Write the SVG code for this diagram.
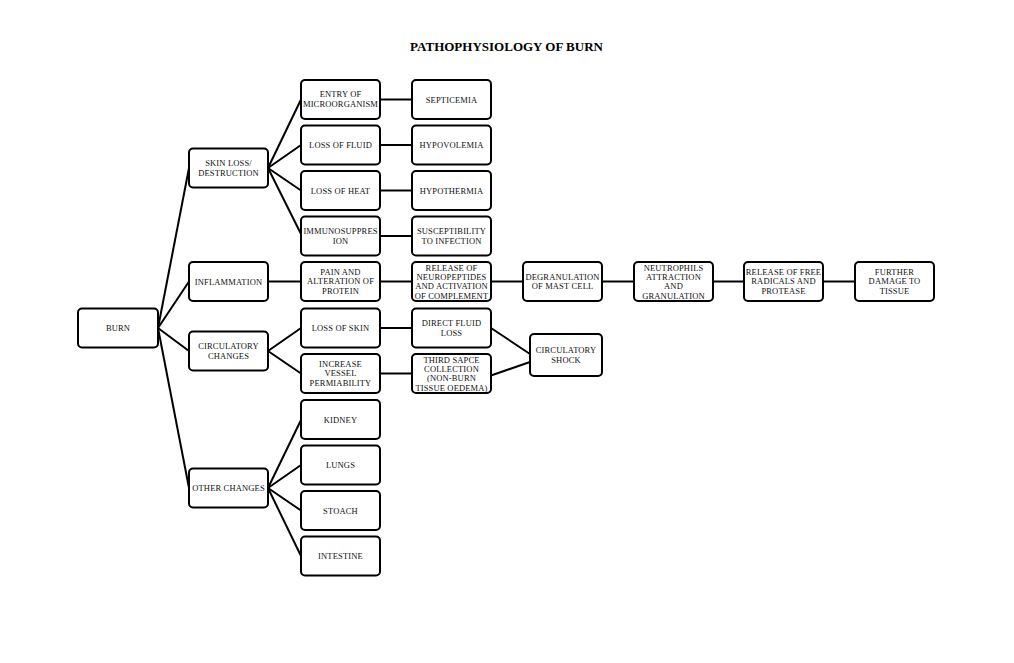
<svg xmlns="http://www.w3.org/2000/svg" width="1014" height="663" viewBox="0 0 1014 663">
<style>
.b{fill:#fff;stroke:#000;stroke-width:2}
.t{font-family:"Liberation Serif","Times New Roman",serif;font-size:8.5px;letter-spacing:0.15px;fill:#111;text-anchor:middle}
.c line{stroke:#000;stroke-width:2}
.title{font-family:"Liberation Serif","Times New Roman",serif;font-size:13px;font-weight:bold;fill:#000;text-anchor:middle}
</style>
<rect width="1014" height="663" fill="#fff"/>
<text class="title" x="506.5" y="50.5">PATHOPHYSIOLOGY OF BURN</text>
<g class="c" id="connectors">
<line x1="158" y1="328" x2="189" y2="168"/>
<line x1="158" y1="328" x2="189" y2="281.5"/>
<line x1="158" y1="328" x2="189" y2="351"/>
<line x1="158" y1="328" x2="189" y2="488"/>
<line x1="268" y1="168" x2="301" y2="99.5"/>
<line x1="268" y1="168" x2="301" y2="145"/>
<line x1="268" y1="168" x2="301" y2="190.5"/>
<line x1="268" y1="168" x2="301" y2="234"/>
<line x1="380" y1="99.5" x2="412" y2="99.5"/>
<line x1="380" y1="145" x2="412" y2="145"/>
<line x1="380" y1="190.5" x2="412" y2="190.5"/>
<line x1="380" y1="236" x2="412" y2="236"/>
<line x1="268" y1="281.5" x2="301" y2="281.5"/>
<line x1="380" y1="281.5" x2="412" y2="281.5"/>
<line x1="491" y1="281.5" x2="523" y2="281.5"/>
<line x1="602" y1="281.5" x2="634" y2="281.5"/>
<line x1="713" y1="281.5" x2="744" y2="281.5"/>
<line x1="823" y1="281.5" x2="855" y2="281.5"/>
<line x1="268" y1="351" x2="301" y2="328"/>
<line x1="268" y1="351" x2="301" y2="373.5"/>
<line x1="380" y1="328" x2="412" y2="328"/>
<line x1="380" y1="373.5" x2="412" y2="373.5"/>
<line x1="491" y1="328" x2="530" y2="354"/>
<line x1="491" y1="375.5" x2="530" y2="362"/>
<line x1="268" y1="488" x2="301" y2="420"/>
<line x1="268" y1="488" x2="301" y2="465"/>
<line x1="268" y1="488" x2="301" y2="510.5"/>
<line x1="268" y1="488" x2="301" y2="556"/>
</g>
<g id="burn"><rect class="b" x="78" y="308.5" width="80" height="39" rx="4"/><text class="t" x="118" y="331">BURN</text></g>
<g id="skin-loss"><rect class="b" x="189" y="148.5" width="79" height="39" rx="4"/><text class="t" x="228.5" y="166.3">SKIN LOSS/</text><text class="t" x="228.5" y="175.6">DESTRUCTION</text></g>
<g id="inflammation"><rect class="b" x="189" y="262" width="79" height="39" rx="4"/><text class="t" x="228.5" y="284.5">INFLAMMATION</text></g>
<g id="circulatory-changes"><rect class="b" x="189" y="331.5" width="79" height="39" rx="4"/><text class="t" x="228.5" y="349.3">CIRCULATORY</text><text class="t" x="228.5" y="358.6">CHANGES</text></g>
<g id="other-changes"><rect class="b" x="189" y="468.5" width="79" height="39" rx="4"/><text class="t" x="228.5" y="491">OTHER CHANGES</text></g>
<g id="entry"><rect class="b" x="301" y="80" width="79" height="39" rx="4"/><text class="t" x="340.5" y="97.3">ENTRY OF</text><text class="t" x="340.5" y="106.6">MICROORGANISM</text></g>
<g id="loss-fluid"><rect class="b" x="301" y="125.5" width="79" height="39" rx="4"/><text class="t" x="340.5" y="148">LOSS OF FLUID</text></g>
<g id="loss-heat"><rect class="b" x="301" y="171" width="79" height="39" rx="4"/><text class="t" x="340.5" y="193.5">LOSS OF HEAT</text></g>
<g id="immuno"><rect class="b" x="301" y="216.5" width="79" height="39" rx="4"/><text class="t" x="340.5" y="234.3">IMMUNOSUPPRES</text><text class="t" x="340.5" y="243.6">ION</text></g>
<g id="pain"><rect class="b" x="301" y="262" width="79" height="39" rx="4"/><text class="t" x="340.5" y="275">PAIN AND</text><text class="t" x="340.5" y="284.3">ALTERATION OF</text><text class="t" x="340.5" y="293.6">PROTEIN</text></g>
<g id="loss-skin"><rect class="b" x="301" y="308.5" width="79" height="39" rx="4"/><text class="t" x="340.5" y="331">LOSS OF SKIN</text></g>
<g id="increase"><rect class="b" x="301" y="354" width="79" height="39" rx="4"/><text class="t" x="340.5" y="367">INCREASE</text><text class="t" x="340.5" y="376.3">VESSEL</text><text class="t" x="340.5" y="385.6">PERMIABILITY</text></g>
<g id="kidney"><rect class="b" x="301" y="400" width="79" height="39" rx="4"/><text class="t" x="340.5" y="422.5">KIDNEY</text></g>
<g id="lungs"><rect class="b" x="301" y="445.5" width="79" height="39" rx="4"/><text class="t" x="340.5" y="468">LUNGS</text></g>
<g id="stoach"><rect class="b" x="301" y="491" width="79" height="39" rx="4"/><text class="t" x="340.5" y="513.5">STOACH</text></g>
<g id="intestine"><rect class="b" x="301" y="536.5" width="79" height="39" rx="4"/><text class="t" x="340.5" y="559">INTESTINE</text></g>
<g id="septicemia"><rect class="b" x="412" y="80" width="79" height="39" rx="4"/><text class="t" x="451.5" y="102.5">SEPTICEMIA</text></g>
<g id="hypovolemia"><rect class="b" x="412" y="125.5" width="79" height="39" rx="4"/><text class="t" x="451.5" y="148">HYPOVOLEMIA</text></g>
<g id="hypothermia"><rect class="b" x="412" y="171" width="79" height="39" rx="4"/><text class="t" x="451.5" y="193.5">HYPOTHERMIA</text></g>
<g id="susceptibility"><rect class="b" x="412" y="216.5" width="79" height="39" rx="4"/><text class="t" x="451.5" y="234.3">SUSCEPTIBILITY</text><text class="t" x="451.5" y="243.6">TO INFECTION</text></g>
<g id="neuropeptides"><rect class="b" x="412" y="262" width="79" height="39" rx="4"/><text class="t" x="451.5" y="270.6">RELEASE OF</text><text class="t" x="451.5" y="280">NEUROPEPTIDES</text><text class="t" x="451.5" y="289.4">AND ACTIVATION</text><text class="t" x="451.5" y="298.8">OF COMPLEMENT</text></g>
<g id="direct-fluid"><rect class="b" x="412" y="308.5" width="79" height="39" rx="4"/><text class="t" x="451.5" y="326.3">DIRECT FLUID</text><text class="t" x="451.5" y="335.6">LOSS</text></g>
<g id="third-space"><rect class="b" x="412" y="354" width="79" height="39" rx="4"/><text class="t" x="451.5" y="362.6">THIRD SAPCE</text><text class="t" x="451.5" y="372">COLLECTION</text><text class="t" x="451.5" y="381.4">(NON-BURN</text><text class="t" x="451.5" y="390.8">TISSUE OEDEMA)</text></g>
<g id="degranulation"><rect class="b" x="523" y="262" width="79" height="39" rx="4"/><text class="t" x="562.5" y="279.8">DEGRANULATION</text><text class="t" x="562.5" y="289.1">OF MAST CELL</text></g>
<g id="shock"><rect class="b" x="530" y="334" width="72" height="42" rx="4"/><text class="t" x="566" y="353.3">CIRCULATORY</text><text class="t" x="566" y="362.6">SHOCK</text></g>
<g id="neutrophils"><rect class="b" x="634" y="262" width="79" height="39" rx="4"/><text class="t" x="673.5" y="270.6">NEUTROPHILS</text><text class="t" x="673.5" y="280">ATTRACTION</text><text class="t" x="673.5" y="289.4">AND</text><text class="t" x="673.5" y="298.8">GRANULATION</text></g>
<g id="free-radicals"><rect class="b" x="744" y="262" width="79" height="39" rx="4"/><text class="t" x="783.5" y="275">RELEASE OF FREE</text><text class="t" x="783.5" y="284.3">RADICALS AND</text><text class="t" x="783.5" y="293.6">PROTEASE</text></g>
<g id="further-damage"><rect class="b" x="855" y="262" width="79" height="39" rx="4"/><text class="t" x="894.5" y="275">FURTHER</text><text class="t" x="894.5" y="284.3">DAMAGE TO</text><text class="t" x="894.5" y="293.6">TISSUE</text></g>
</svg>
